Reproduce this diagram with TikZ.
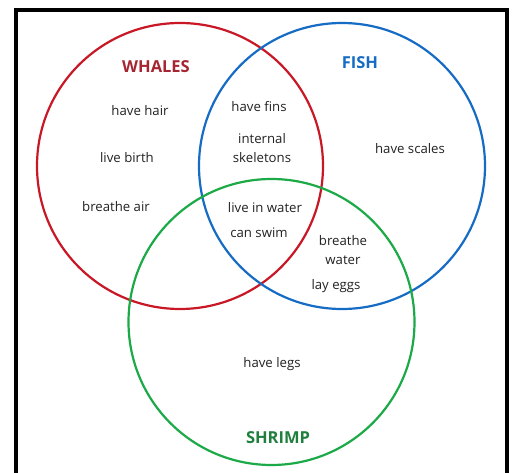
\documentclass[tikz,border=0pt]{standalone}
\usepackage{fontspec}
\setmainfont{Open Sans}
\usetikzlibrary{positioning}

\definecolor{whalered}{RGB}{200,24,38}
\definecolor{whaletext}{RGB}{165,38,50}
\definecolor{fishblue}{RGB}{22,108,196}
\definecolor{shrimpgreen}{RGB}{28,170,72}
\definecolor{shrimptext}{RGB}{30,128,60}
\definecolor{itemgray}{RGB}{35,35,35}

\begin{document}
\begin{tikzpicture}[x=1pt,y=-1pt,
                    set/.style={circle,draw,line width=2.2pt,minimum size=286pt,inner sep=0pt},
                    title/.style={font=\fontsize{16.5}{18}\selectfont\bfseries},
                    item/.style={font=\fontsize{13.2}{19}\selectfont,text=itemgray,align=center,inner sep=1pt}]

  \clip (0,0) rectangle (512,473);
  \fill[white] (0,0) rectangle (512,473);
  \draw[line width=4pt] (15.5,490) -- (15.5,10) -- (506.5,10) -- (506.5,490);

  \node[set,draw=whalered] (whales) at (180,166) {};
  \node[set,draw=fishblue] (fish) at (342,166) {};
  \node[set,draw=shrimpgreen] (shrimp) at (271.5,322) {};

  \node[title,text=whaletext] (t1) at (156,67) {WHALES};
  \node[title,text=fishblue] (t2) at (360,63) {FISH};
  \node[title,text=shrimptext] (t3) at (278,438) {SHRIMP};

  \node[item] (hair) at (140,111) {have hair};
  \node[item] (birth) at (127,158) {live birth};
  \node[item] (air) at (116,207) {breathe air};
  \node[item] (fins) at (259,107) {have fins};
  \node[item] (skel) at (262,148) {internal\\skeletons};
  \node[item] (scales) at (410,149) {have scales};
  \node[item] (inwater) at (265,208) {live in water};
  \node[item] (swim) at (259,233) {can swim};
  \node[item] (bwater) at (343,250) {breathe\\water};
  \node[item] (eggs) at (336,286) {lay eggs};
  \node[item] (legs) at (272,364) {have legs};
\end{tikzpicture}
\end{document}
